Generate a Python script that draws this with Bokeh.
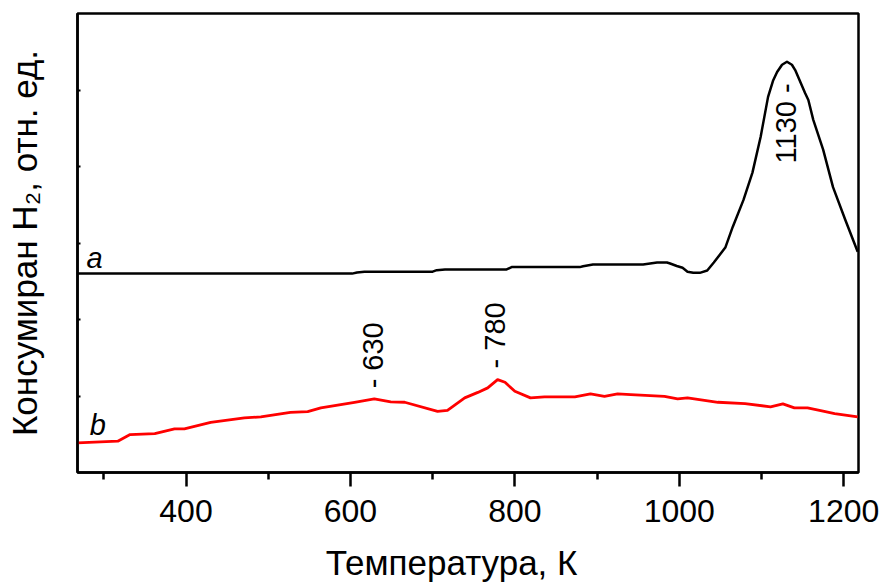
import math
from bokeh.plotting import figure
from bokeh.models import Range1d, FixedTicker, Label, LinearAxis
from bokeh.embed import file_html
from bokeh.resources import INLINE

# ---- data ----
temp_a = [268, 602, 608, 617, 700, 705, 715, 790, 796, 879, 883, 895, 956, 973, 985, 988,
          997, 1004, 1010, 1017, 1025, 1034, 1042, 1056, 1065, 1078, 1089, 1099, 1108, 1114,
          1119, 1125, 1131, 1137, 1141, 1153, 1157, 1163, 1175, 1187, 1202, 1217]
h2_a = [2.60, 2.60, 2.615, 2.625, 2.625, 2.645, 2.655, 2.655, 2.685, 2.685, 2.696, 2.72,
        2.72, 2.745, 2.745, 2.735, 2.70, 2.676, 2.625, 2.61, 2.61, 2.64, 2.745, 2.94, 3.21,
        3.56, 3.92, 4.39, 4.91, 5.12, 5.235, 5.33, 5.37, 5.33, 5.26, 4.96, 4.87, 4.61, 4.22,
        3.73, 3.30, 2.885]

temp_b = [268, 317, 332, 362, 386, 398, 430, 471, 491, 527, 548, 564, 605, 629, 649, 666,
          706, 718, 739, 755, 767, 779, 788, 800, 819, 836, 873, 892, 909, 925, 941, 982,
          998, 1010, 1047, 1080, 1111, 1126, 1140, 1156, 1172, 1189, 1217]
h2_b = [0.388, 0.409, 0.496, 0.509, 0.570, 0.570, 0.656, 0.714, 0.727, 0.787, 0.796, 0.845,
        0.918, 0.962, 0.923, 0.918, 0.800, 0.813, 0.975, 1.047, 1.106, 1.214, 1.179, 1.061,
        0.975, 0.988, 0.988, 1.027, 0.996, 1.027, 1.018, 0.996, 0.962, 0.975, 0.918, 0.901,
        0.858, 0.897, 0.845, 0.845, 0.809, 0.770, 0.727]

peak_labels = ["- 630", "- 780", "1130 -"]
peak_x = [628, 776, 1130]
peak_y = [1.10, 1.36, 4.04]

curve_names = ["a", "b"]
curve_name_x = [279, 283]
curve_name_y = [2.80, 0.62]

x_major = [400, 600, 800, 1000, 1200]
x_minor = [300, 500, 700, 900, 1100]
y_ticks = [1, 2, 3, 4, 5]

x_title = "Температура, К"
x_title_at = 723          # the reference sets this title left of the frame centre
y_title = "Консумиран H₂, отн. ед."

FONT = "Liberation Sans"

p = figure(width=879, height=586, output_backend="svg", toolbar_location=None,
           x_range=Range1d(268, 1218), y_range=Range1d(0, 6),
           min_border_left=77, min_border_right=21, min_border_top=13, min_border_bottom=114)

p.xgrid.visible = False
p.ygrid.visible = False
p.background_fill_color = "white"
p.border_fill_color = "white"
p.outline_line_color = "black"
p.outline_line_width = 2.5

p.line(temp_a, h2_a, line_color="black", line_width=2.5, line_join="round")
p.line(temp_b, h2_b, line_color="#ff0000", line_width=2.8, line_join="round")

# x axis
xa = p.xaxis[0]
xa.ticker = FixedTicker(ticks=x_major, minor_ticks=x_minor)
xa.axis_line_width = 2.5
xa.axis_line_color = "black"
xa.major_tick_line_width = 2.5
xa.minor_tick_line_width = 2.5
xa.major_tick_out = 14
xa.major_tick_in = 0
xa.minor_tick_out = 7
xa.minor_tick_in = 0
xa.major_label_text_font = FONT
xa.major_label_text_font_size = "32px"
xa.major_label_text_color = "black"
xa.major_label_text_line_height = 0.8
xa.major_label_standoff = 13

# x axis title, carried by a bare axis so it can sit left of centre
ta = LinearAxis(ticker=FixedTicker(ticks=[x_title_at], minor_ticks=[]),
                major_label_overrides={x_title_at: x_title},
                axis_line_color=None, major_tick_line_color=None,
                minor_tick_line_color=None, major_tick_out=0, major_tick_in=0,
                minor_tick_out=0, minor_tick_in=0,
                major_label_standoff=18, major_label_text_font=FONT,
                major_label_text_line_height=0.8,
                major_label_text_font_size="35px", major_label_text_color="black")
p.add_layout(ta, "below")

# y axis
ya = p.yaxis[0]
ya.ticker = FixedTicker(ticks=y_ticks, minor_ticks=[])
ya.axis_line_width = 2.5
ya.axis_line_color = "black"
ya.major_tick_line_width = 2
ya.major_tick_in = 3
ya.major_tick_out = 0
ya.major_label_overrides = {t: "" for t in y_ticks}
ya.axis_label = y_title
ya.axis_label_text_font = FONT
ya.axis_label_text_font_size = "35px"
ya.axis_label_text_font_style = "normal"
ya.axis_label_text_color = "black"
ya.axis_label_standoff = 34

for t, xx, yy in zip(peak_labels, peak_x, peak_y):
    p.add_layout(Label(x=xx, y=yy, text=t, angle=math.pi / 2, text_align="left",
                       text_baseline="middle", text_font=FONT, text_font_size="29px",
                       text_color="black"))

for t, xx, yy in zip(curve_names, curve_name_x, curve_name_y):
    p.add_layout(Label(x=xx, y=yy, text=t, text_align="left", text_baseline="alphabetic",
                       text_font=FONT, text_font_size="29px", text_font_style="italic",
                       text_color="black"))

open("out.html", "w").write(file_html(p, INLINE))
